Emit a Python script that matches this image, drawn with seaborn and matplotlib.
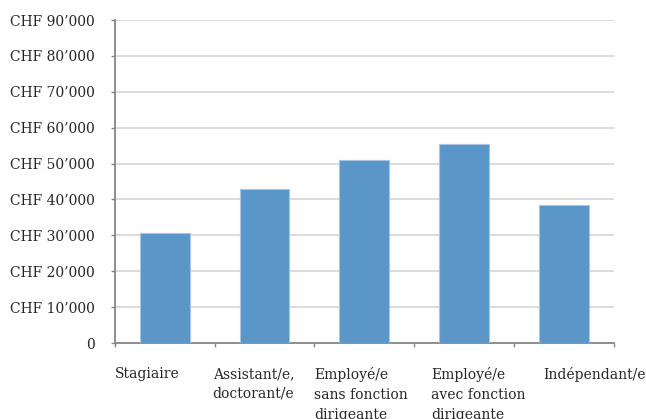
import matplotlib
matplotlib.use("Agg")
import matplotlib.pyplot as plt
import seaborn as sns
import pandas as pd
from matplotlib.ticker import FuncFormatter

categories = ["Stagiaire", "Assistant/e,\ndoctorant/e", "Employé/e\nsans fonction\ndirigeante",
              "Employé/e\navec fonction\ndirigeante", "Indépendant/e"]
salaries = [30550, 42950, 51100, 55450, 38330]
yticks = [0, 10000, 20000, 30000, 40000, 50000, 60000, 70000, 80000, 90000]

df = pd.DataFrame({"cat": categories, "val": salaries})

sns.set_theme(style="white")
plt.rcParams["font.family"] = ["DejaVu Serif"]

fig = plt.figure(figsize=(6.46, 4.19), dpi=100)
W, H = 646, 419
ax = fig.add_axes([115 / W, (H - 343) / H, (613.5 - 115) / W, (343 - 20) / H])

sns.barplot(data=df, x="cat", y="val", color="#5A96C8", width=0.5, ax=ax,
            edgecolor="#A8C6E4", linewidth=0.8, saturation=1, zorder=3)

ax.set_ylim(0, 90000)
ax.set_xlim(-0.5, 4.5)
ax.set_yticks(yticks)
ax.yaxis.set_major_formatter(FuncFormatter(
    lambda v, p: "0" if v == 0 else "CHF " + f"{int(v):,}".replace(",", "’")))
ax.tick_params(axis="y", labelsize=10, colors="#868686", labelcolor="#262626",
               length=3, width=1, pad=11.5, left=True, direction="out")

ax.set_xticks([-0.5, 0.5, 1.5, 2.5, 3.5, 4.5])
ax.set_xticklabels([])
ax.tick_params(axis="x", colors="#868686", length=3, width=1, bottom=True, direction="out")

ax.grid(axis="y", color="#D9D9D9", linewidth=1.3, zorder=0)
ax.set_axisbelow(True)
for s in ["top", "right"]:
    ax.spines[s].set_visible(False)
for s in ["left", "bottom"]:
    ax.spines[s].set_color("#868686")
    ax.spines[s].set_linewidth(1.3)
ax.set_xlabel("")
ax.set_ylabel("")

label_x = [-0.5, 0.48, 1.5, 2.67, 3.8]
for lx, lab in zip(label_x, categories):
    ax.text(lx, -0.075, lab, transform=ax.get_xaxis_transform(), ha="left", va="top",
            fontsize=10, color="#262626", linespacing=1.52, clip_on=False)

fig.savefig("out.png", dpi=100)
